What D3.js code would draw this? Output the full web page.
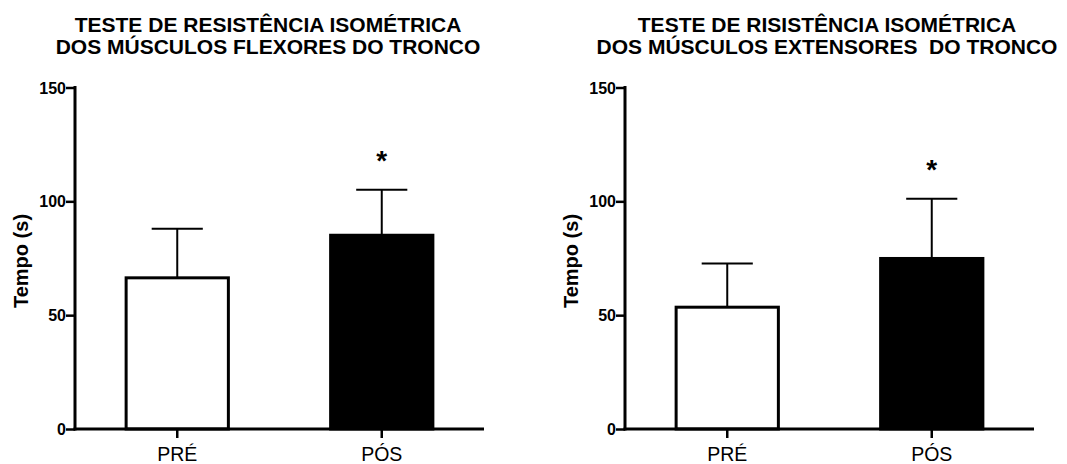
<!DOCTYPE html>
<html><head><meta charset="utf-8">
<script src="https://cdn.jsdelivr.net/npm/d3@7"></script>
<style>
html,body{margin:0;padding:0;background:#fff;}
svg{display:block;}
text{font-family:"Liberation Sans",Arial,sans-serif;fill:#000;}
</style></head>
<body>
<script>
const categories = ["PRÉ", "PÓS"];
const flexMeans = [66.4, 85.1];
const flexSD = [21.6, 20.0];
const extMeans = [53.5, 74.9];
const extSD = [19.2, 26.2];
const yTicks = [0, 50, 100, 150];
const titlesFlex = ["TESTE DE RESISTÊNCIA ISOMÉTRICA", "DOS MÚSCULOS FLEXORES DO TRONCO"];
const titlesExt = ["TESTE DE RISISTÊNCIA ISOMÉTRICA", "DOS MÚSCULOS EXTENSORES  DO TRONCO"];
const yLabel = "Tempo (s)";
const signif = ["", "*"];
const fills = ["#ffffff", "#000000"];

const W = 1067, H = 464;
const svg = d3.select("body").append("svg").attr("width", W).attr("height", H);

function sText(g, x, y, str, size, weight, anchor, rot) {
  return g.append("g").attr("transform", `translate(${x},${y})` + (rot ? ` rotate(${rot})` : ""))
    .append("text").attr("x", 0).attr("y", 0)
    .attr("font-size", size).attr("font-weight", weight)
    .attr("text-anchor", anchor).style("white-space", "pre").text(str);
}

function panel(ox, titles, means, sds, titleCx) {
  const g = svg.append("g").attr("transform", `translate(${ox},0)`);
  const y = d3.scaleLinear().domain([0, 150]).range([429, 87.5]);
  const x = d3.scaleBand().domain(categories).range([0, 409]).paddingInner(0.5).paddingOuter(0.25);

  sText(svg, titleCx, 32, titles[0], 21, "bold", "middle");
  sText(svg, titleCx, 54, titles[1], 21, "bold", "middle");

  g.selectAll("rect.bar").data(means).enter().append("rect")
    .attr("x", (d, i) => x(categories[i]))
    .attr("y", d => y(d))
    .attr("width", x.bandwidth())
    .attr("height", d => y(0) - y(d))
    .attr("fill", (d, i) => fills[i])
    .attr("stroke", "#000").attr("stroke-width", 3);

  means.forEach((m, i) => {
    const cx = x(categories[i]) + x.bandwidth() / 2;
    g.append("line").attr("x1", cx).attr("x2", cx).attr("y1", y(m)).attr("y2", y(m + sds[i]))
      .attr("stroke", "#000").attr("stroke-width", 2);
    g.append("line").attr("x1", cx - x.bandwidth() / 4).attr("x2", cx + x.bandwidth() / 4)
      .attr("y1", y(m + sds[i])).attr("y2", y(m + sds[i]))
      .attr("stroke", "#000").attr("stroke-width", 2);
    if (signif[i]) {
      g.append("text").attr("x", cx).attr("y", y(m + sds[i]) - 20)
        .attr("text-anchor", "middle").attr("font-size", 28).attr("font-weight", "bold").text(signif[i]);
    }
  });

  const ya = g.append("g").call(d3.axisLeft(y).tickValues(yTicks).tickSize(9).tickSizeOuter(0));
  ya.select(".domain").attr("stroke-width", 3).attr("d", `M0,${y(0) + 1.5}V${y(150) - 1.5}`);
  ya.selectAll(".tick line").attr("stroke-width", 2.5);
  ya.selectAll(".tick text").remove();
  yTicks.forEach(v => sText(g, -9, y(v) + 6, String(v), 16, "bold", "end"));

  const xa = g.append("g").attr("transform", `translate(0,${y(0)})`).call(d3.axisBottom(x).tickSize(9).tickSizeOuter(0));
  xa.select(".domain").attr("stroke-width", 3).attr("d", `M-1.5,0H409`);
  xa.selectAll(".tick line").attr("stroke-width", 2.5);
  xa.selectAll(".tick text").remove();
  categories.forEach(c => sText(g, x(c) + x.bandwidth() / 2, 461, c, 19.5, "normal", "middle"));

  sText(g, -47, 261, yLabel, 20, "bold", "middle", -90);
}

panel(75, titlesFlex, flexMeans, flexSD, 268);
panel(625, titlesExt, extMeans, extSD, 827);
</script>
</body></html>
